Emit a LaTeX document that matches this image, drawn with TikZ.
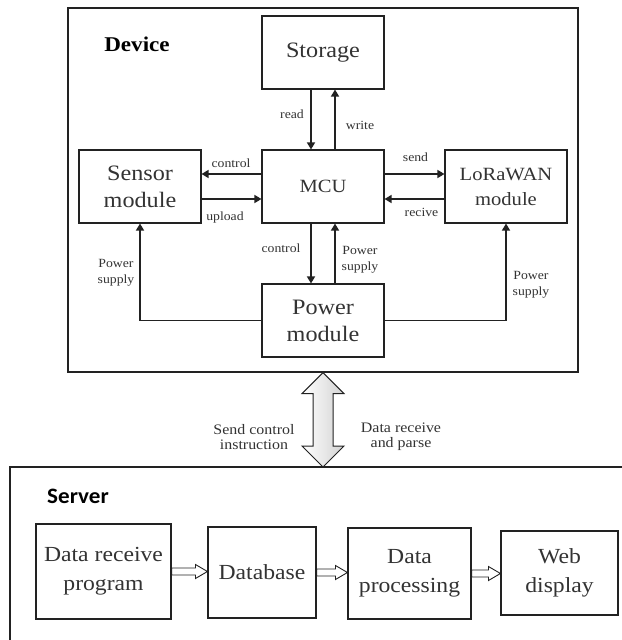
\documentclass[tikz,border=0pt]{standalone}
\usepackage{fontspec}
\setmainfont[FakeStretch=1.1]{Liberation Serif}
\newfontfamily\srvfont[FakeStretch=1.05]{Carlito}
\usetikzlibrary{arrows.meta,calc}
\definecolor{linec}{HTML}{222222}
\definecolor{txt}{HTML}{333333}
\tikzset{
  box/.style={draw=linec, line width=1.1bp, inner sep=0pt, align=center, text=txt},
  big/.style={font=\fontsize{22bp}{27bp}\selectfont},
  mid/.style={font=\fontsize{18.7bp}{25bp}\selectfont},
  srv/.style={font=\fontsize{21.5bp}{29bp}\selectfont},
  lbl/.style={text=txt, align=center, inner sep=0pt, font=\fontsize{12.5bp}{16bp}\selectfont},
  biglbl/.style={text=txt, align=center, inner sep=0pt, font=\fontsize{14.5bp}{15bp}\selectfont},
  arr/.style={draw=linec, line width=1.4bp, -{Triangle[length=7bp,width=8bp]}},
  hol/.style={draw=linec, line width=0.9bp, fill=white,
    to path={let \p1=(\tikztostart), \p2=(\tikztotarget) in
      (\x1,\y1+3.5bp) -- (\x2-12bp,\y1+3.5bp) -- (\x2-12bp,\y1+7bp) -- (\x2,\y1)
      -- (\x2-12bp,\y1-7bp) -- (\x2-12bp,\y1-3.5bp) -- (\x1,\y1-3.5bp) -- cycle}},
}
\begin{document}
\begin{tikzpicture}[x=1bp,y=-1bp]
\useasboundingbox (0,0) rectangle (622,640);
\fill[white] (0,0) rectangle (622,640);

% Device part
\node[box, minimum width=510bp, minimum height=364bp] (device) at (323,190) {};
\node[font=\fontsize{21bp}{25bp}\selectfont\bfseries, text=black, inner sep=0pt] (devlbl) at (137,44) {Device};

\node[box,big,minimum width=122bp,minimum height=73bp] (storage) at (323,52.5) {Storage};
\node[box,mid,minimum width=122bp,minimum height=73bp] (mcu) at (323,186.5) {MCU};
\node[box,big,minimum width=122bp,minimum height=73bp] (sensor) at (140,186.5) {Sensor\\module};
\node[box,mid,minimum width=122bp,minimum height=73bp] (lora) at (506,186.5) {LoRaWAN\\module};
\node[box,big,minimum width=122bp,minimum height=73bp] (power) at (323,320.5) {Power\\module};

\draw[arr] ([xshift=-12bp]storage.south) -- ([xshift=-12bp]mcu.north);
\draw[arr] ([xshift=12bp]mcu.north) -- ([xshift=12bp]storage.south);
\draw[arr] ([yshift=12.5bp]mcu.west) -- ([yshift=12.5bp]sensor.east);
\draw[arr] ([yshift=-12.5bp]sensor.east) -- ([yshift=-12.5bp]mcu.west);
\draw[arr] ([yshift=12.5bp]mcu.east) -- ([yshift=12.5bp]lora.west);
\draw[arr] ([yshift=-12.5bp]lora.west) -- ([yshift=-12.5bp]mcu.east);
\draw[arr] ([xshift=-12bp]mcu.south) -- ([xshift=-12bp]power.north);
\draw[arr] ([xshift=12bp]power.north) -- ([xshift=12bp]mcu.south);
\draw[arr] (power.west) -| (sensor.south);
\draw[arr] (power.east) -| (lora.south);

\node[lbl] (l-read) at (292,114) {read};
\node[lbl] (l-write) at (360,125) {write};
\node[lbl] (l-ctl1) at (231,163) {control};
\node[lbl] (l-up) at (225,217) {upload};
\node[lbl] (l-send) at (415.5,157) {send};
\node[lbl] (l-rec) at (421.5,212) {recive};
\node[lbl] (l-ctl2) at (281,248) {control};
\node[lbl] (l-ps1) at (360,260) {Power\\supply};
\node[lbl] (l-ps2) at (116,273) {Power\\supply};
\node[lbl] (l-ps3) at (531,285) {Power\\supply};

% link between device and server
\coordinate (srvtop) at (323,467);
\draw[linec, line width=1bp, left color=white, right color=gray!35]
  let \p1=(device.south), \p2=(srvtop) in
  (\x1,\y1) -- (\x1+21bp,\y1-21bp) -- (\x1+10bp,\y1-21bp) -- (\x1+10bp,\y2+21bp)
  -- (\x1+21bp,\y2+21bp) -- (\x2,\y2) -- (\x1-21bp,\y2+21bp) -- (\x1-10bp,\y2+21bp)
  -- (\x1-10bp,\y1-21bp) -- (\x1-21bp,\y1-21bp) -- cycle;
\node[biglbl] (l-send2) at (254,437) {Send control\\instruction};
\node[biglbl] (l-recv2) at (401,437) {Data receive\\and parse};

% Server part
\draw[linec, line width=1.1bp] (640,467) -- (10,467) -- (10,650);
\node[font={\srvfont\bfseries\fontsize{22bp}{26bp}\selectfont}, text=black, inner sep=0pt] (srvlbl) at (78,496) {Server};

\node[box,srv,minimum width=135bp,minimum height=95bp] (drp) at (103.5,571.5) {Data receive\\program};
\node[box,srv,minimum width=108bp,minimum height=91bp] (db) at (262,572.5) {Database};
\node[box,srv,minimum width=123bp,minimum height=91bp] (dp) at (409.5,573.5) {Data\\processing};
\node[box,srv,minimum width=117bp,minimum height=84bp] (web) at (559.5,573) {Web\\display};

\draw[hol] (drp.east) to (db.west);
\draw[hol] (db.east) to (dp.west);
\draw[hol] (dp.east) to (web.west);
\end{tikzpicture}
\end{document}
